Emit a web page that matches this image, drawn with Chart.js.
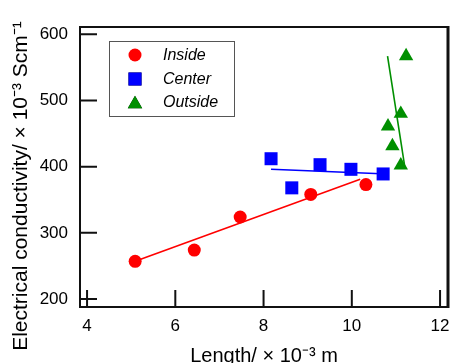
<!DOCTYPE html>
<html><head><meta charset="utf-8">
<script src="https://cdn.jsdelivr.net/npm/chart.js@4/dist/chart.umd.min.js"></script>
<style>html,body{margin:0;padding:0;background:#fff}#wrap{width:454px;height:363px;position:relative}</style>
</head><body><div id="wrap"><canvas id="c"></canvas></div>
<script>
const seriesNames = ['Inside', 'Center', 'Outside'];
const insideX = [5.09, 6.43, 7.47, 9.07, 10.32];
const insideY = [257, 274, 324, 358, 373];
const centerX = [8.17, 8.64, 9.28, 9.98, 10.71];
const centerY = [412, 368, 403, 396, 389];
const outsideX = [11.23, 11.11, 10.82, 10.92, 11.11];
const outsideY = [567, 480, 461, 431, 402];
const insideFitX = [5.09, 10.19];
const insideFitY = [257, 381];
const centerFitX = [8.17, 10.80];
const centerFitY = [396, 389];
const outsideFitX = [10.81, 11.20];
const outsideFitY = [567, 400];
const xTicks = [4, 6, 8, 10, 12];
const yTicks = [200, 300, 400, 500, 600];
const xTitle = 'Length/ \u00d7 10\u207b\u00b3 m';
const yTitle = 'Electrical conductivity/ \u00d7 10\u207b\u00b3 Scm\u207b\u00b9';

const RED = '#ff0000', BLUE = '#0000ff', GREEN = '#008f00';
const FONT = "'Liberation Sans', Arial, Helvetica, sans-serif";
const pts = (xs, ys) => xs.map((x, i) => ({x: x, y: ys[i]}));

const framePlugin = {
  id: 'frameTicks',
  afterDraw(chart) {
    const {ctx, chartArea: a, scales} = chart;
    ctx.save();
    ctx.strokeStyle = '#111';
    ctx.lineWidth = 2;
    ctx.beginPath();
    xTicks.forEach(v => { const px = scales.x.getPixelForValue(v); ctx.moveTo(px, a.bottom); ctx.lineTo(px, a.bottom - 17); });
    yTicks.forEach(v => { const py = scales.y.getPixelForValue(v); ctx.moveTo(a.left, py); ctx.lineTo(a.left + 17, py); });
    ctx.stroke();
    ctx.beginPath();
    ctx.moveTo(a.right, a.top); ctx.lineTo(a.left, a.top); ctx.lineTo(a.left, a.bottom); ctx.lineTo(a.right, a.bottom);
    ctx.stroke();
    ctx.lineWidth = 3;
    ctx.beginPath(); ctx.moveTo(a.right, a.top - 1); ctx.lineTo(a.right, a.bottom + 1); ctx.stroke();
    // y-axis title
    ctx.fillStyle = '#000';
    ctx.font = '21px ' + FONT;
    ctx.textAlign = 'center';
    ctx.textBaseline = 'middle';
    ctx.translate(21, 186);
    ctx.rotate(-Math.PI / 2);
    ctx.fillText(yTitle, 0, 0);
    ctx.restore();
    // legend
    ctx.save();
    const bx = 109.5, by = 41.5, bw = 125, bh = 75;
    ctx.fillStyle = '#fff';
    ctx.fillRect(bx, by, bw, bh);
    ctx.strokeStyle = '#555';
    ctx.lineWidth = 1;
    ctx.strokeRect(bx, by, bw, bh);
    const rows = [55, 79, 102];
    chart.data.datasets.slice(0, 3).forEach((ds, i) => {
      Chart.helpers.drawPoint(ctx, {pointStyle: ds.pointStyle, radius: ds.pointRadius, borderWidth: 0, rotation: 0}, 135, rows[i] + (ds.pointStyle === 'triangle' ? 2 : 0));
      ctx.fillStyle = ds.backgroundColor; ctx.fill();
      ctx.fillStyle = '#000';
      ctx.font = 'italic 16px ' + FONT;
      ctx.textAlign = 'left';
      ctx.textBaseline = 'middle';
      ctx.fillText(ds.label, 163, rows[i] + 1);
    });
    ctx.restore();
  }
};

const pointDs = (label, data, color, style, r) => ({label, data, backgroundColor: color, borderColor: color, borderWidth: 0, pointStyle: style, pointRadius: r, pointHoverRadius: r, showLine: false, order: 1});
const lineDs = (label, data, color) => ({label, data, borderColor: color, backgroundColor: color, borderWidth: 1.6, pointRadius: 0, showLine: true, order: 2});

new Chart(document.getElementById('c'), {
  type: 'scatter',
  data: {
    datasets: [
      pointDs(seriesNames[0], pts(insideX, insideY), RED, 'circle', 6.5),
      pointDs(seriesNames[1], pts(centerX, centerY), BLUE, 'rect', 9.2),
      pointDs(seriesNames[2], pts(outsideX, outsideY), GREEN, 'triangle', 8.3),
      lineDs(seriesNames[0] + ' fit', pts(insideFitX, insideFitY), RED),
      lineDs(seriesNames[1] + ' fit', pts(centerFitX, centerFitY), BLUE),
      lineDs(seriesNames[2] + ' fit', pts(outsideFitX, outsideFitY), GREEN)
    ]
  },
  options: {
    responsive: true, maintainAspectRatio: false, animation: false,
    layout: {autoPadding: false, padding: {left: 0, top: 27, right: 6, bottom: 0}},
    plugins: {legend: {display: false}, tooltip: {enabled: false}},
    scales: {
      x: {
        type: 'linear', min: 3.84, max: 12.18,
        afterBuildTicks: s => { s.ticks = xTicks.map(v => ({value: v})); },
        afterFit: s => { s.height = 56; s.paddingRight = 0; s.paddingLeft = 0; },
        grid: {display: false, drawTicks: false},
        border: {display: false},
        ticks: {padding: 9, color: '#000', font: {family: FONT, size: 17}},
        title: {display: true, text: xTitle, color: '#000', font: {family: FONT, size: 20, lineHeight: 0.7}, padding: {top: 0, bottom: 0}}
      },
      y: {
        type: 'linear', min: 188, max: 611,
        afterBuildTicks: s => { s.ticks = yTicks.map(v => ({value: v})); },
        afterFit: s => { s.width = 80; s.paddingTop = 0; s.paddingBottom = 0; },
        grid: {display: false, drawTicks: false},
        border: {display: false},
        ticks: {padding: 12, color: '#000', font: {family: FONT, size: 17}}
      }
    }
  },
  plugins: [framePlugin]
});
</script></body></html>
